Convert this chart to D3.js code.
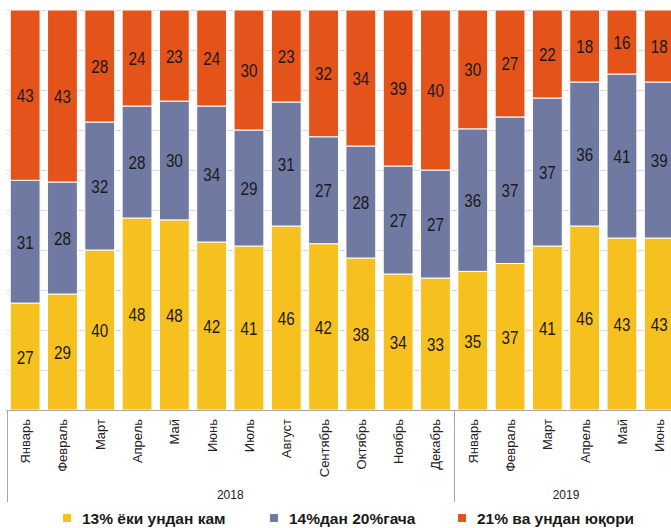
<!DOCTYPE html>
<html>
<head>
<meta charset="utf-8">
<script src="https://cdn.jsdelivr.net/npm/d3@7"></script>
<style>
  body { margin: 0; background: #fff; }
  svg { display: block; font-family: "Liberation Sans", Arial, sans-serif; }
</style>
</head>
<body>
<div id="chart-area"></div>
<script>
var months = ["Январь","Февраль","Март","Апрель","Май","Июнь","Июль","Август","Сентябрь","Октябрь","Ноябрь","Декабрь",
              "Январь","Февраль","Март","Апрель","Май","Июнь"];
var years = [{year: "2018", from: 0, to: 12}, {year: "2019", from: 12, to: 18}];

var low  = [27,29,40,48,48,42,41,46,42,38,34,33,35,37,41,46,43,43];
var mid  = [31,28,32,28,30,34,29,31,27,28,27,27,36,37,37,36,41,39];
var high = [43,43,28,24,23,24,30,23,32,34,39,40,30,27,22,18,16,18];

var seriesNames = ["13% ёки ундан кам","14%дан 20%гача","21% ва ундан юқори"];
var colors = ["#F6C01E","#6F79A1","#E3531A"];

var width = 671, height = 528;
var svg = d3.select("#chart-area").append("svg")
  .attr("width", width).attr("height", height);

var rows = months.map(function(m, i){
  return {i: i, month: m, low: low[i], mid: mid[i], high: high[i]};
});
var keys = ["low","mid","high"];
var stack = d3.stack().keys(keys).offset(d3.stackOffsetExpand);
var stacked = stack(rows);

var x0 = 6.5;
var step = 37.3;
var x = d3.scaleBand().domain(d3.range(months.length))
  .range([x0, x0 + step * months.length])
  .paddingInner(0.2).paddingOuter(0.1);
var y = d3.scaleLinear().domain([0, 1]).range([410, 10]);

// gridlines
svg.append("g").selectAll("line")
  .data(d3.range(0, 1.01, 0.1))
  .enter().append("line")
  .attr("x1", x0).attr("x2", width)
  .attr("y1", function(d){ return Math.round(y(d)) + 0.5; })
  .attr("y2", function(d){ return Math.round(y(d)) + 0.5; })
  .attr("stroke", "#d9d9d9").attr("stroke-width", 1);

// bars
var layers = svg.append("g").selectAll("g")
  .data(stacked).enter().append("g")
  .attr("fill", function(d, i){ return colors[i]; });

layers.selectAll("rect")
  .data(function(d){ return d; })
  .enter().append("rect")
  .attr("x", function(d){ return x(d.data.i); })
  .attr("width", x.bandwidth())
  .attr("y", function(d){ return y(d[1]); })
  .attr("height", function(d){ return y(d[0]) - y(d[1]); })
  .attr("stroke", "#fff").attr("stroke-width", 1);

// value labels
stacked.forEach(function(layer){
  svg.append("g").selectAll("text")
    .data(layer).enter().append("text")
    .attr("transform", function(d){
      return "translate(" + (x(d.data.i) + x.bandwidth() / 2) + "," + ((y(d[0]) + y(d[1])) / 2 + 7) + ") scale(0.8,1)";
    })
    .attr("text-anchor", "middle")
    .attr("font-size", "19px")
    .attr("fill", "#1a1a1a")
    .text(function(d){ return d.data[layer.key]; });
});

// axis line and group dividers
var axisColor = "#a6a6a6";
svg.append("line")
  .attr("x1", x0).attr("x2", width)
  .attr("y1", 410.5).attr("y2", 410.5)
  .attr("stroke", axisColor);

years.forEach(function(yr){
  var xs = x0 + yr.from * step;
  svg.append("line")
    .attr("x1", Math.round(xs) + 0.5).attr("x2", Math.round(xs) + 0.5)
    .attr("y1", 410).attr("y2", 502)
    .attr("stroke", axisColor);
  svg.append("text")
    .attr("x", x0 + (yr.from + yr.to) / 2 * step)
    .attr("y", 499)
    .attr("text-anchor", "middle")
    .attr("font-size", "12px")
    .attr("fill", "#222")
    .text(yr.year);
});

// month labels
svg.append("g").selectAll("text")
  .data(rows).enter().append("text")
  .attr("transform", function(d){
    return "translate(" + (x(d.i) + x.bandwidth() / 2 + 5) + ",419) rotate(-90)";
  })
  .attr("text-anchor", "end")
  .attr("font-size", "13px")
  .attr("fill", "#222")
  .text(function(d){ return d.month; });

// legend
var legendX = [63, 270, 458];
seriesNames.forEach(function(name, i){
  var row = svg.append("g").attr("transform", "translate(" + legendX[i] + ",514)");
  row.append("rect")
    .attr("width", 8).attr("height", 8)
    .attr("fill", colors[i]);
  row.append("text")
    .attr("x", 19).attr("y", 10)
    .attr("font-size", "15.5px")
    .attr("font-weight", "bold")
    .attr("fill", "#1a1a1a")
    .text(name);
});
</script>
</body>
</html>
